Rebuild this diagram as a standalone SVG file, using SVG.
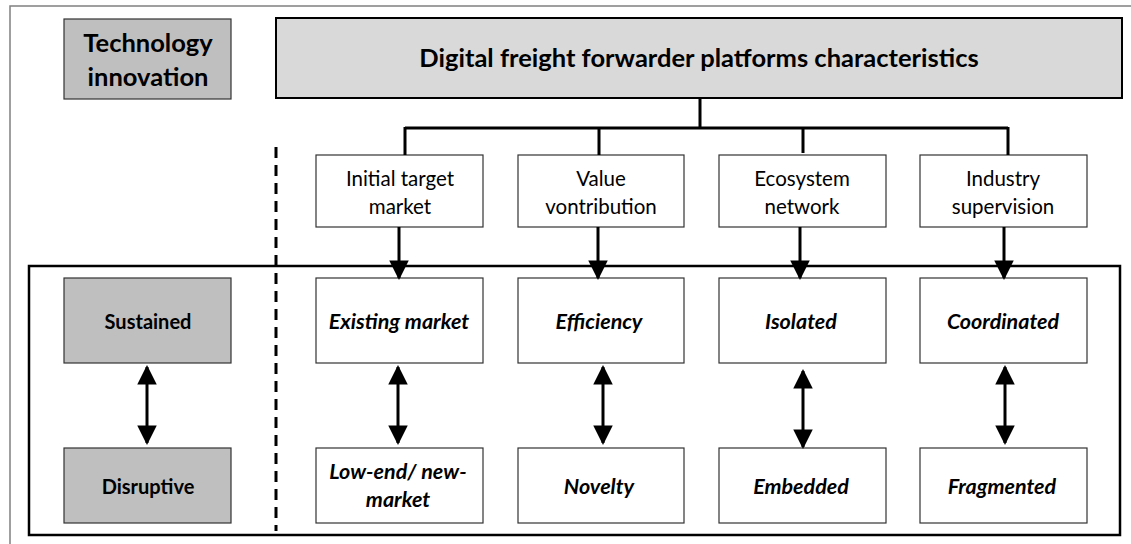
<svg xmlns="http://www.w3.org/2000/svg" width="1131" height="544" viewBox="0 0 1131 544">
<style>
.t{font-family:Lato,"Liberation Sans",sans-serif;fill:#000;text-anchor:middle}
.b{font-weight:bold}
.bi{font-weight:bold;font-style:italic;font-size:21.5px}
.r{font-size:20.5px}
.box{fill:#fff;stroke:#333;stroke-width:1.2}
.gbox{fill:#bfbfbf;stroke:#333;stroke-width:1.2}
.ln{stroke:#000;stroke-width:3;fill:none}
</style>
<defs>
<marker id="ah" viewBox="0 0 10 10" refX="9" refY="5" markerWidth="6.5" markerHeight="6.5" markerUnits="strokeWidth" orient="auto-start-reverse">
<path d="M0,0 L10,5 L0,10 Z" fill="#000"/>
</marker>
</defs>
<rect x="10" y="6" width="1140" height="560" fill="#fff" stroke="#808080" stroke-width="1.5"/>
<rect id="inner-frame" x="29" y="266" width="1091" height="269" fill="none" stroke="#000" stroke-width="2.5"/>
<line x1="276" y1="147" x2="276" y2="531" stroke="#000" stroke-width="3" stroke-dasharray="11,7"/>

<g id="tech-innovation">
<rect class="gbox" x="64" y="19" width="167" height="80"/>
<text class="t b" x="148" y="52" font-size="25.5">Technology</text>
<text class="t b" x="148" y="86" font-size="25.5">innovation</text>
</g>
<g id="title">
<rect x="276" y="18" width="846" height="80" fill="#d9d9d9" stroke="#000" stroke-width="2"/>
<text class="t b" x="699" y="67" font-size="25.5">Digital freight forwarder platforms characteristics</text>
</g>

<g id="initial-target">
<rect class="box" x="316" y="155" width="167" height="72"/>
<text class="t r" x="400" y="186">Initial target</text>
<text class="t r" x="400" y="214">market</text>
</g>
<g id="value">
<rect class="box" x="518" y="155" width="166" height="72"/>
<text class="t r" x="601" y="186">Value</text>
<text class="t r" x="601" y="214">vontribution</text>
</g>
<g id="ecosystem">
<rect class="box" x="719" y="155" width="167" height="72"/>
<text class="t r" x="802" y="186">Ecosystem</text>
<text class="t r" x="802" y="214">network</text>
</g>
<g id="industry">
<rect class="box" x="920" y="155" width="167" height="72"/>
<text class="t r" x="1003" y="186">Industry</text>
<text class="t r" x="1003" y="214">supervision</text>
</g>

<g id="sustained">
<rect class="gbox" x="64" y="278" width="167" height="85"/>
<text class="t b" x="148" y="329" font-size="20">Sustained</text>
</g>
<g id="disruptive">
<rect class="gbox" x="64" y="448" width="167" height="75"/>
<text class="t b" x="148" y="494" font-size="20">Disruptive</text>
</g>

<g id="existing-market">
<rect class="box" x="316" y="278" width="167" height="85"/>
<text class="t bi" x="399" y="329">Existing market</text>
</g>
<g id="efficiency">
<rect class="box" x="518" y="278" width="166" height="85"/>
<text class="t bi" x="599" y="329">Efficiency</text>
</g>
<g id="isolated">
<rect class="box" x="719" y="278" width="167" height="85"/>
<text class="t bi" x="801" y="329">Isolated</text>
</g>
<g id="coordinated">
<rect class="box" x="920" y="278" width="167" height="85"/>
<text class="t bi" x="1003" y="329">Coordinated</text>
</g>

<g id="low-end">
<rect class="box" x="316" y="448" width="167" height="75"/>
<text class="t bi" x="398" y="479">Low-end/ new-</text>
<text class="t bi" x="398" y="507">market</text>
</g>
<g id="novelty">
<rect class="box" x="518" y="448" width="166" height="75"/>
<text class="t bi" x="599" y="494">Novelty</text>
</g>
<g id="embedded">
<rect class="box" x="719" y="448" width="167" height="75"/>
<text class="t bi" x="801" y="494">Embedded</text>
</g>
<g id="fragmented">
<rect class="box" x="920" y="448" width="167" height="75"/>
<text class="t bi" x="1002" y="494">Fragmented</text>
</g>

<g id="connectors">
<path class="ln" d="M700,98 V128 M405,128 H1008 M405,127 V155 M599,127 V155 M803,127 V153 M1008,127 V155"/>
<line class="ln" x1="399" y1="227" x2="399" y2="278" marker-end="url(#ah)"/>
<line class="ln" x1="598" y1="227" x2="598" y2="278" marker-end="url(#ah)"/>
<line class="ln" x1="800" y1="227" x2="800" y2="278" marker-end="url(#ah)"/>
<line class="ln" x1="1004" y1="227" x2="1004" y2="278" marker-end="url(#ah)"/>
<line class="ln" x1="147" y1="367" x2="147" y2="443" marker-start="url(#ah)" marker-end="url(#ah)"/>
<line class="ln" x1="398" y1="367" x2="398" y2="443" marker-start="url(#ah)" marker-end="url(#ah)"/>
<line class="ln" x1="603" y1="367" x2="603" y2="443" marker-start="url(#ah)" marker-end="url(#ah)"/>
<line class="ln" x1="803" y1="371" x2="803" y2="447" marker-start="url(#ah)" marker-end="url(#ah)"/>
<line class="ln" x1="1005" y1="367" x2="1005" y2="443" marker-start="url(#ah)" marker-end="url(#ah)"/>
</g>
</svg>
